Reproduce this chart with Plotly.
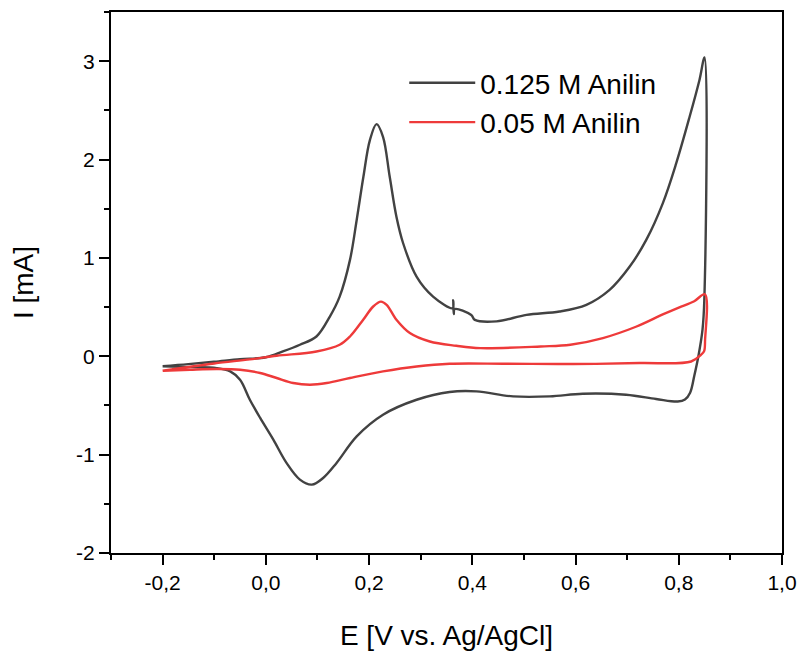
import plotly.graph_objects as go

# 0.125 M Anilin (forward scan then reverse scan)
e_125 = [-0.20, -0.15, -0.10, -0.05, 0.00, 0.033, 0.066, 0.098, 0.124, 0.143, 0.163, 0.176,
         0.189, 0.2016, 0.2145, 0.227, 0.240, 0.253, 0.266, 0.292, 0.324, 0.362, 0.363, 0.364,
         0.366, 0.398, 0.405, 0.447, 0.505, 0.569, 0.621, 0.666, 0.705, 0.737, 0.769, 0.795,
         0.821, 0.840, 0.850,
         0.8495, 0.846, 0.838, 0.830, 0.822, 0.812, 0.798, 0.756, 0.698, 0.614, 0.550, 0.479,
         0.408, 0.356, 0.292, 0.227, 0.176, 0.137, 0.111, 0.089, 0.066, 0.040, 0.0145, -0.011,
         -0.031, -0.050, -0.069, -0.095, -0.147, -0.20]
i_125 = [-0.10, -0.08, -0.056, -0.03, -0.01, 0.049, 0.117, 0.201, 0.404, 0.607, 0.980, 1.386,
         1.825, 2.198, 2.360, 2.231, 1.825, 1.419, 1.149, 0.810, 0.607, 0.489, 0.57, 0.43,
         0.48, 0.42, 0.37, 0.355, 0.421, 0.455, 0.523, 0.675, 0.912, 1.183, 1.555, 1.961,
         2.435, 2.807, 3.038,
         0.574, 0.27, 0.0, -0.20, -0.37, -0.44, -0.46, -0.434, -0.391, -0.381, -0.408, -0.408,
         -0.357, -0.363, -0.442, -0.594, -0.814, -1.084, -1.237, -1.305, -1.254, -1.084, -0.848,
         -0.627, -0.442, -0.239, -0.154, -0.120, -0.110, -0.103]

# 0.05 M Anilin (forward scan then reverse scan)
e_05 = [-0.20, -0.10, -0.031, 0.021, 0.098, 0.143, 0.163, 0.1886, 0.208, 0.223, 0.234, 0.253,
        0.279, 0.3176, 0.369, 0.4155, 0.5325, 0.590, 0.653, 0.717, 0.769, 0.800, 0.830, 0.8506,
        0.851, 0.849, 0.843, 0.824, 0.724, 0.595, 0.466, 0.356, 0.292, 0.227, 0.163, 0.118,
        0.0855, 0.053, 0.021, -0.011, -0.050, -0.095, -0.147, -0.199]
i_05 = [-0.147, -0.073, -0.032, 0.005, 0.049, 0.117, 0.201, 0.371, 0.506, 0.556, 0.523, 0.371,
        0.236, 0.150, 0.107, 0.083, 0.100, 0.117, 0.185, 0.300, 0.425, 0.495, 0.560, 0.630,
        0.168, 0.05, 0.015, -0.053, -0.069, -0.079, -0.076, -0.076, -0.104, -0.154, -0.221, -0.272,
        -0.289, -0.272, -0.221, -0.170, -0.137, -0.130, -0.137, -0.147]

x_ticks = [-0.2, 0.0, 0.2, 0.4, 0.6, 0.8, 1.0]
x_labels = ["-0,2", "0,0", "0,2", "0,4", "0,6", "0,8", "1,0"]
y_ticks = [-2, -1, 0, 1, 2, 3]
y_labels = ["-2", "-1", "0", "1", "2", "3"]

FONT = "Arial, Liberation Sans, sans-serif"
fig = go.Figure()
fig.add_trace(go.Scatter(x=e_125, y=i_125, mode="lines", name="0.125 M Anilin",
                         line=dict(color="#424242", width=2.4, shape="spline", smoothing=1.0)))
fig.add_trace(go.Scatter(x=e_05, y=i_05, mode="lines", name="0.05 M Anilin",
                         line=dict(color="#ee3a3a", width=2.4, shape="spline", smoothing=1.0)))

common = dict(showgrid=False, zeroline=False, linecolor="black", linewidth=2,
              tickcolor="black", tickwidth=2, ticklen=10, automargin=False)
fig.update_layout(
    width=800, height=651,
    margin=dict(l=111, r=18, t=12, b=98),
    paper_bgcolor="white", plot_bgcolor="white",
    font=dict(family=FONT, color="black"),
    xaxis=dict(range=[-0.3, 1.0], tickvals=x_ticks, ticktext=x_labels, ticks="outside",
               showline=True, mirror=True, tickfont=dict(size=21),
               minor=dict(dtick=0.1, ticks="outside", ticklen=5, tickwidth=2, tickcolor="black"),
               title=dict(text="E [V vs. Ag/AgCl]", font=dict(size=28), standoff=34), **common),
    yaxis=dict(range=[-2, 3.5], tickvals=y_ticks, ticktext=y_labels, ticks="outside",
               showline=True, mirror=True, tickfont=dict(size=21),
               minor=dict(dtick=0.5, ticks="outside", ticklen=5, tickwidth=2, tickcolor="black"),
               title=dict(text="I [mA]", font=dict(size=28), standoff=34), **common),
    xaxis2=dict(range=[-0.3, 1.0], overlaying="x", side="top", anchor="y", tickvals=x_ticks,
                ticks="inside", showticklabels=False, showline=False,
                minor=dict(dtick=0.1, ticks="inside", ticklen=5, tickwidth=2, tickcolor="black"),
                **common),
    yaxis2=dict(range=[-2, 3.5], overlaying="y", side="right", anchor="x", tickvals=y_ticks,
                ticks="inside", showticklabels=False, showline=False,
                minor=dict(dtick=0.5, ticks="inside", ticklen=5, tickwidth=2, tickcolor="black"),
                **common),
    legend=dict(x=0.437, y=0.915, xanchor="left", yanchor="top", bgcolor="rgba(0,0,0,0)",
                font=dict(size=28), itemwidth=66, tracegroupgap=0),
    showlegend=True,
)
fig.write_html("out.html")
